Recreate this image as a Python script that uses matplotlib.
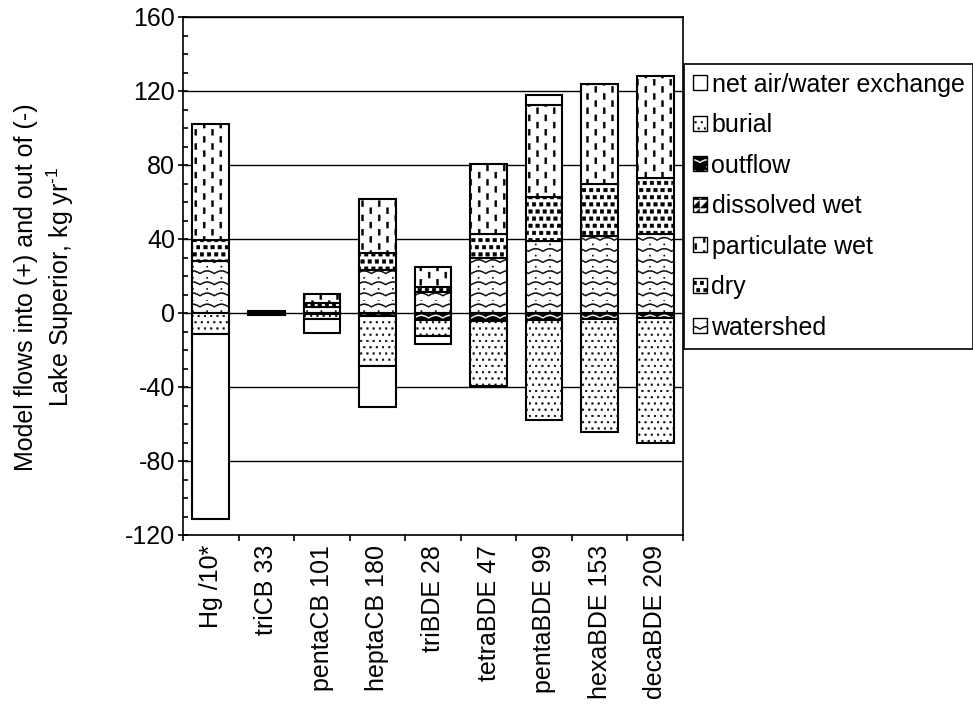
import warnings
warnings.filterwarnings('ignore')
import numpy as np
import matplotlib
matplotlib.use('Agg')
import matplotlib.pyplot as plt
import matplotlib.hatch as mhatch
from matplotlib.path import Path
from matplotlib.patches import Patch
from matplotlib.ticker import MultipleLocator, FixedLocator

# ---------------- data ----------------
categories = ["Hg /10*", "triCB 33", "pentaCB 101", "heptaCB 180", "triBDE 28",
              "tetraBDE 47", "pentaBDE 99", "hexaBDE 153", "decaBDE 209"]
watershed       = [28.2, 0.4, 3.4, 23.3, 11.6, 29.8, 38.9, 41.6, 42.8]
dry             = [11.4, 0.3, 1.8, 9.0, 2.3, 13.0, 24.0, 28.3, 30.2]
particulate_wet = [62.4, 0.4, 5.2, 29.5, 11.2, 37.6, 49.8, 53.8, 55.2]
dissolved_wet   = [0, 0, 0, 0, 0, 0, 0, 0, 0]
outflow         = [0, -0.3, -0.4, -1.4, -3.6, -4.1, -3.8, -3.3, -2.8]
burial          = [-11.2, -0.5, -2.8, -27.0, -8.6, -35.2, -54.1, -60.9, -67.6]
net_exchange    = [-100.0, -0.5, -7.8, -22.3, -4.5, 0, 5.4, 0, 0]
yticks = [-120, -80, -40, 0, 40, 80, 120, 160]

plt.rcParams['font.family'] = ['Liberation Sans', 'DejaVu Sans']
plt.rcParams['mathtext.fontset'] = 'custom'
plt.rcParams['mathtext.rm'] = 'Liberation Sans'
plt.rcParams['mathtext.default'] = 'regular'
plt.rcParams['axes.unicode_minus'] = False
plt.rcParams['hatch.linewidth'] = 0.3


# ---------------- custom hatch patterns ----------------
def _rect(x0, y0, w, h):
    return np.array([(x0, y0), (x0 + w, y0), (x0 + w, y0 + h), (x0, y0 + h)])


class _PolyHatch(mhatch.HatchPatternBase):
    char = ''

    def __init__(self, hatch, density):
        n = hatch.count(self.char) if (self.char and hatch) else 0
        self._polys = self.make_polys() if n else []
        self.num_vertices = sum(len(p) + 1 for p in self._polys)

    def make_polys(self):
        return []

    def set_vertices_and_codes(self, vertices, codes):
        c = 0
        for p in self._polys:
            k = len(p)
            vertices[c:c + k] = p
            vertices[c + k] = p[0]
            codes[c] = Path.MOVETO
            codes[c + 1:c + k] = Path.LINETO
            codes[c + k] = Path.CLOSEPOLY
            c += k + 1


class WaveHatch(_PolyHatch):
    char = 'W'

    def make_polys(self):
        rows, periods, amp, th = 9, 7, 0.013, 0.011
        xs = np.linspace(0, 1, 211)
        polys = []
        for j in range(rows):
            yc = (j + 0.5) / rows
            ys = yc - amp + 2 * amp * np.abs(np.sin(np.pi * periods * xs))
            up = np.column_stack([xs, ys + th / 2])
            lo = np.column_stack([xs[::-1], ys[::-1] - th / 2])
            polys.append(np.vstack([up, lo]))
            for i in range(periods):
                polys.append(_rect((i + 0.5) / periods - 0.006, yc + 0.5 / rows - 0.006,
                                   0.012, 0.012))
        return polys


class SquareHatch(_PolyHatch):
    char = 'S'

    def make_polys(self):
        n, s = 14, 0.036
        return [_rect((i + 0.5 * (j % 2)) / n + 0.001, j / n + 0.01, s, s)
                for j in range(n) for i in range(n)]


class DashHatch(_PolyHatch):
    char = 'D'

    def make_polys(self):
        nc, nr, w, h = 12, 7, 0.02, 0.06
        return [_rect((i + 0.5) / nc - w / 2, (k + 0.5 * (i % 2)) / nr + 0.005, w, h)
                for i in range(nc) for k in range(nr)]


class DotHatch(_PolyHatch):
    char = 'P'

    def make_polys(self):
        n, s = 16, 0.016
        return [_rect((i + 0.5 * (j % 2)) / n + 0.01, j / n + 0.02, s, s)
                for j in range(n) for i in range(n)]


class TriHatch(_PolyHatch):
    char = 'T'

    def make_polys(self):
        n = 12
        c = 0.9 / n
        polys = []
        for j in range(n):
            for i in range(n):
                x0, y0 = i / n + 0.003, j / n + 0.003
                polys.append(np.array([(x0, y0), (x0 + c, y0), (x0 + c, y0 + c)]))
        return polys


mhatch._hatch_types.extend([WaveHatch, SquareHatch, DashHatch, DotHatch, TriHatch])

# ---------------- figure ----------------
fig = plt.figure(figsize=(9.73, 7.17), dpi=100)
ax = fig.add_axes([183 / 973, 1 - 535 / 717, (683 - 183) / 973, (535 - 17) / 717])

x = np.arange(len(categories))
width = 0.66
series = [
    ("watershed", watershed, 'W'),
    ("dry", dry, 'S'),
    ("particulate wet", particulate_wet, 'D'),
    ("dissolved wet", dissolved_wet, 'T'),
    ("outflow", outflow, 'W'),
    ("burial", burial, 'P'),
    ("net air/water exchange", net_exchange, None),
]

pos = np.zeros(len(categories))
neg = np.zeros(len(categories))
handles = {}
for name, vals, hatch in series:
    v = np.array(vals, float)
    bottom = np.where(v >= 0, pos, neg)
    m = v != 0
    if name == "outflow":
        if m.any():
            ax.bar(x[m], v[m], width, bottom=bottom[m], color='black', edgecolor='white',
                   hatch='W', linewidth=0, zorder=2)
            ax.bar(x[m], v[m], width, bottom=bottom[m], fill=False, edgecolor='black',
                   linewidth=1.5, zorder=3)
        handles[name] = (Patch(facecolor='black', edgecolor='white', hatch='W', linewidth=0),
                         Patch(fill=False, edgecolor='black', linewidth=1.0))
    else:
        if m.any():
            ax.bar(x[m], v[m], width, bottom=bottom[m], color='white', edgecolor='black',
                   hatch=hatch, linewidth=1.5, zorder=3)
        handles[name] = Patch(facecolor='white', edgecolor='black', hatch=hatch, linewidth=1.0)
    pos += np.where(v > 0, v, 0)
    neg += np.where(v < 0, v, 0)

ax.set_xlim(-0.5, len(categories) - 0.5)
ax.set_ylim(-120, 160)
ax.set_yticks(yticks)
ax.yaxis.set_minor_locator(MultipleLocator(10))
ax.tick_params(axis='y', which='major', direction='inout', length=7, width=1.2,
               labelsize=18, pad=2.3)
ax.tick_params(axis='y', which='minor', direction='in', length=3.6, width=1.2)

ax.set_xticks(x)
ax.set_xticklabels(categories, rotation=90)
ax.xaxis.set_minor_locator(FixedLocator(np.arange(-0.5, len(categories), 1.0)))
ax.tick_params(axis='x', which='major', length=0, labelsize=18, pad=7)
ax.tick_params(axis='x', which='minor', direction='out', length=4, width=1.2)

ax.set_axisbelow(True)
ax.yaxis.grid(True, which='major', color='black', linewidth=1.0)
for sp in ax.spines.values():
    sp.set_linewidth(1.2)
    sp.set_color('black')

fig.text(45 / 973, 1 - 287 / 717,
         "Model flows into (+) and out of (-)\nLake Superior, kg yr$^{\\text{-}1}$",
         rotation=90, ha='center', va='center', multialignment='center',
         fontsize=18, linespacing=1.3)

order = ["net air/water exchange", "burial", "outflow", "dissolved wet",
         "particulate wet", "dry", "watershed"]
leg = fig.legend([handles[k] for k in order], order, loc='upper left',
                 bbox_to_anchor=(684 / 973, 1 - 64 / 717), borderaxespad=0,
                 frameon=True, fancybox=False, edgecolor='black', framealpha=1,
                 fontsize=18, handlelength=0.55, handleheight=0.55,
                 handletextpad=0.2, labelspacing=0.66, borderpad=0.35)
leg.get_frame().set_linewidth(1.2)

fig.savefig("out.png", dpi=100)
